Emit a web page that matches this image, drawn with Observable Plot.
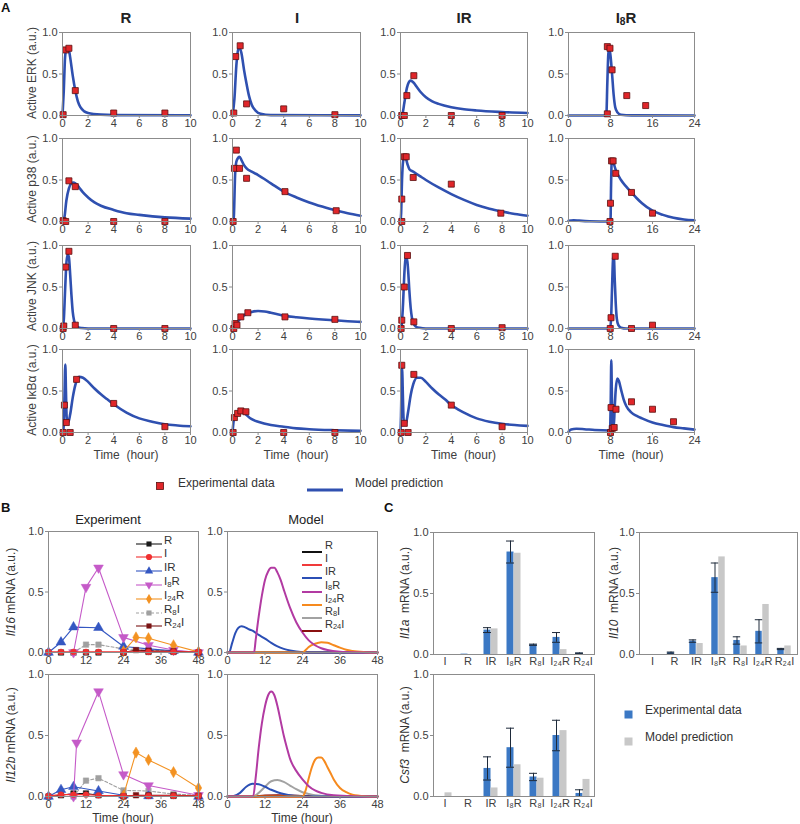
<!DOCTYPE html>
<html><head><meta charset="utf-8">
<script src="https://cdn.jsdelivr.net/npm/d3@7"></script>
<script src="https://cdn.jsdelivr.net/npm/@observablehq/plot@0.6"></script>
<style>
body{margin:0;background:#fff;}
#fig{position:relative;width:800px;height:824px;font-family:"Liberation Sans",Arial,Helvetica,sans-serif;color:#333;overflow:hidden;background:#fff;}
.abs{position:absolute;white-space:nowrap;line-height:1;}
.rot{transform:translate(-50%,-50%) rotate(-90deg);}
.ctr{transform:translate(-50%,-50%);}
.lft{transform:translate(0,-50%);}
sub{font-size:0.68em;vertical-align:-0.2em;line-height:0;}
</style></head><body><div id="fig"></div>
<script>
// ---------------- Panel A data: [time (hour), activity] ----------------
const ERK_R_exp  = [[0.05,0.01],[0.25,0.79],[0.5,0.81],[1,0.3],[4,0.03],[8,0.03]];
const ERK_R_mod  = [[0,0],[0.1,0.3],[0.2,0.7],[0.3,0.8],[0.4,0.82],[0.5,0.79],[0.6,0.7],[0.8,0.48],[1,0.3],[1.2,0.17],[1.4,0.1],[1.7,0.05],[2,0.03],[3,0.01],[4,0.005],[10,0.003]];
const ERK_I_exp  = [[0.1,0.03],[0.25,0.71],[0.6,0.84],[1.1,0.14],[4,0.08],[8,0.01]];
const ERK_I_mod  = [[0,0],[0.15,0.2],[0.3,0.6],[0.45,0.8],[0.55,0.82],[0.7,0.75],[0.9,0.55],[1.1,0.38],[1.3,0.23],[1.5,0.13],[1.8,0.06],[2.2,0.02],[3,0.005],[10,0.002]];
const ERK_IR_exp = [[0.1,0.0],[0.3,0.0],[0.5,0.24],[1.05,0.48],[4,0.0],[8,0.0]];
const ERK_IR_mod = [[0,0],[0.15,0.02],[0.3,0.15],[0.5,0.33],[0.65,0.4],[0.8,0.42],[1,0.4],[1.3,0.34],[1.6,0.28],[2,0.22],[2.5,0.17],[3,0.14],[4,0.1],[5,0.075],[6,0.06],[8,0.042],[10,0.03]];
const ERK_I8R_exp = [[7.4,0.02],[7.4,0.83],[7.9,0.81],[8.3,0.55],[11.1,0.24],[14.7,0.12]];
const ERK_I8R_mod = [[0,0],[7.2,0],[7.4,0.4],[7.6,0.75],[7.8,0.8],[8.0,0.72],[8.3,0.5],[8.6,0.25],[8.9,0.1],[9.3,0.04],[10,0.01],[12,0.002],[24,0]];

const P38_R_exp  = [[0.05,0.01],[0.25,0.0],[0.5,0.49],[1,0.42],[4,0.0],[8,0.0]];
const P38_R_mod  = [[0,0],[0.15,0.05],[0.3,0.25],[0.5,0.4],[0.7,0.46],[0.85,0.47],[1,0.46],[1.3,0.41],[1.6,0.35],[2,0.29],[2.5,0.23],[3,0.19],[4,0.14],[5,0.1],[6,0.08],[8,0.05],[10,0.035]];
const P38_I_exp  = [[0.05,0.0],[0.15,0.64],[0.3,0.86],[0.55,0.64],[1.1,0.52],[4.1,0.36],[8.1,0.13]];
const P38_I_mod  = [[0,0],[0.1,0.05],[0.2,0.55],[0.3,0.72],[0.45,0.77],[0.55,0.78],[0.7,0.74],[0.9,0.68],[1.1,0.64],[1.5,0.6],[2,0.56],[3,0.46],[4,0.36],[5,0.29],[6,0.23],[7,0.18],[8,0.135],[9,0.1],[10,0.07]];
const P38_IR_exp = [[0.1,0.0],[0.1,0.27],[0.3,0.78],[0.45,0.78],[1,0.53],[4,0.45],[7.9,0.1]];
const P38_IR_mod = [[0,0],[0.05,0.1],[0.12,0.5],[0.2,0.72],[0.3,0.78],[0.4,0.77],[0.55,0.69],[0.7,0.63],[1,0.6],[1.5,0.55],[2,0.5],[3,0.41],[4,0.33],[5,0.26],[6,0.2],[7,0.155],[8,0.12],[9,0.09],[10,0.07]];
const P38_I8R_exp = [[7.9,0.0],[8.0,0.22],[8.2,0.73],[8.5,0.73],[9,0.58],[12,0.35],[16,0.1]];
const P38_I8R_mod = [[0,0.01],[1,0.015],[2,0.01],[4,0.003],[8,0],[8.1,0.4],[8.25,0.75],[8.5,0.72],[9,0.62],[10,0.5],[11,0.42],[12,0.35],[13,0.28],[14,0.22],[16,0.13],[18,0.08],[20,0.045],[22,0.025],[24,0.015]];

const JNK_R_exp  = [[0.05,0.0],[0.1,0.03],[0.25,0.74],[0.5,0.93],[1,0.04],[4,0.0],[8,0.0]];
const JNK_R_mod  = [[0,0],[0.1,0.1],[0.2,0.45],[0.3,0.78],[0.4,0.89],[0.5,0.86],[0.6,0.65],[0.7,0.4],[0.8,0.2],[0.9,0.1],[1,0.05],[1.2,0.015],[1.5,0.005],[2,0],[10,0]];
const JNK_I_exp  = [[0.1,0.0],[0.2,0.06],[0.35,0.04],[0.65,0.14],[1.2,0.19],[4.1,0.14],[8,0.11]];
const JNK_I_mod  = [[0,0],[0.2,0.03],[0.5,0.1],[1,0.17],[1.5,0.2],[2,0.21],[2.5,0.205],[3,0.19],[4,0.155],[5,0.135],[6,0.12],[7,0.108],[8,0.098],[9,0.088],[10,0.08]];
const JNK_IR_exp = [[0.05,0.0],[0.1,0.1],[0.3,0.5],[0.55,0.88],[1.05,0.08],[4,0.0],[8,0.01]];
const JNK_IR_mod = [[0,0],[0.1,0.05],[0.2,0.3],[0.3,0.65],[0.4,0.85],[0.5,0.86],[0.6,0.7],[0.7,0.45],[0.8,0.25],[0.9,0.13],[1,0.07],[1.2,0.025],[1.5,0.008],[2,0],[10,0]];
const JNK_I8R_exp = [[7.95,0.0],[8.1,0.13],[8.9,0.87],[12,0.0],[16,0.04]];
const JNK_I8R_mod = [[0,0],[7.9,0],[8.1,0.1],[8.3,0.5],[8.5,0.85],[8.65,0.86],[8.8,0.6],[9.0,0.3],[9.2,0.12],[9.5,0.04],[10,0.01],[11,0],[24,0]];

const IKB_R_exp  = [[0.05,0.0],[0.15,0.33],[0.3,0.12],[0.6,0.0],[1.1,0.64],[4,0.35],[8,0.07]];
const IKB_R_mod  = [[0,0],[0.08,0.05],[0.15,0.4],[0.22,0.82],[0.27,0.5],[0.32,0.2],[0.38,0.12],[0.45,0.12],[0.6,0.22],[0.8,0.42],[1,0.57],[1.3,0.67],[1.6,0.66],[2,0.61],[2.5,0.53],[3,0.46],[3.5,0.4],[4,0.34],[5,0.24],[6,0.17],[7,0.13],[8,0.1],[9,0.085],[10,0.075]];
const IKB_I_exp  = [[0.05,0.0],[0.15,0.18],[0.4,0.23],[0.65,0.26],[1.05,0.25],[4,0.0],[8,0.0]];
const IKB_I_mod  = [[0,0],[0.1,0.15],[0.2,0.2],[0.35,0.23],[0.5,0.26],[0.65,0.28],[0.85,0.25],[1.1,0.21],[1.5,0.16],[2,0.13],[3,0.09],[4,0.07],[5,0.05],[6,0.04],[8,0.028],[10,0.02]];
const IKB_IR_exp = [[0.05,0.0],[0.1,0.81],[0.3,0.11],[0.6,0.0],[1.05,0.7],[4,0.33],[8,0.07]];
const IKB_IR_mod = [[0,0],[0.04,0.2],[0.09,0.65],[0.13,0.8],[0.17,0.55],[0.22,0.25],[0.28,0.1],[0.4,0.1],[0.6,0.25],[0.8,0.45],[1,0.58],[1.3,0.66],[1.6,0.66],[2,0.61],[2.5,0.53],[3,0.46],[3.5,0.4],[4,0.33],[5,0.24],[6,0.17],[7,0.13],[8,0.105],[9,0.09],[10,0.08]];
const IKB_I8R_exp = [[8,0.0],[8.1,0.3],[8.35,0.05],[8.7,0.06],[9.05,0.28],[12,0.37],[16,0.28],[20,0.13]];
const IKB_I8R_mod = [[0,0.01],[0.5,0.035],[1.5,0.045],[3,0.04],[5,0.03],[7.9,0.025],[8.05,0.4],[8.15,0.87],[8.25,0.5],[8.35,0.15],[8.6,0.05],[8.8,0.3],[9.0,0.52],[9.3,0.65],[9.6,0.62],[10,0.52],[10.5,0.4],[11,0.32],[12,0.24],[13,0.2],[14,0.17],[16,0.12],[18,0.09],[20,0.065],[22,0.05],[24,0.035]];

const stimuliA = ["R","I","IR","I<sub>8</sub>R"];
const readoutsA = ["Active ERK (a.u.)","Active p38 (a.u.)","Active JNK (a.u.)","Active I\u03BAB\u03B1 (a.u.)"];
const ticksShort = [0,2,4,6,8,10];
const ticksLong = [0,8,16,24];
const ticksY = [0,0.5,1];

// ---------------- Panel B data: [time (hour), mRNA] ----------------
const conditionsB = ["R","I","IR","I<sub>8</sub>R","I<sub>24</sub>R","R<sub>8</sub>I","R<sub>24</sub>I"];
const ticksB = [0,12,24,36,48];
const Il16_R_exp    = [[0,0],[4,0],[8,0],[12,0],[16,0],[24,0],[32,0.005],[40,0.005],[48,0]];
const Il16_I_exp    = [[0,0.005],[4,0.005],[8,0.005],[12,0.005],[16,0.005],[24,0.005],[32,0.005],[40,0.005],[48,0.005]];
const Il16_IR_exp   = [[0,0],[4,0.085],[8,0.21],[16,0.205],[24,0.05],[32,0.03],[40,0.015],[48,0]];
const Il16_I8R_exp  = [[8,0],[12,0.54],[16,0.7],[24,0.125],[32,0.06],[40,0.02],[48,0]];
const Il16_I24R_exp = [[24,0.01],[28,0.125],[32,0.118],[40,0.06],[48,0.005]];
const Il16_R8I_exp  = [[8,0],[12,0.065],[16,0.065],[24,0.03],[32,0.02],[40,0.01],[48,0]];
const Il16_R24I_exp = [[24,0],[28,0.02],[32,0.015],[40,0.01],[48,0]];

const Il12b_R_exp    = [[0,0],[4,0.01],[8,0.025],[12,0.025],[16,0.01],[24,0.005],[32,0.005],[40,0.005],[48,0]];
const Il12b_I_exp    = [[0,0.005],[4,0.015],[8,0.015],[12,0.015],[16,0.01],[24,0.005],[32,0.005],[40,0.005],[48,0.005]];
const Il12b_IR_exp   = [[0,0],[4,0.055],[8,0.08],[16,0.045],[24,0.01],[32,0.005],[48,0]];
const Il12b_I8R_exp  = [[8,0],[9,0.44],[16,0.86],[24,0.18],[32,0.09],[48,0.01]];
const Il12b_I24R_exp = [[24,0.01],[28,0.36],[32,0.3],[40,0.2],[48,0.07]];
const Il12b_R8I_exp  = [[8,0],[12,0.13],[16,0.15],[24,0.05],[32,0.045],[40,0.02],[48,0.01]];
const Il12b_R24I_exp = [[24,0],[28,0.01],[32,0.01],[40,0.01],[48,0.005]];

const Il16_R_mod    = [[0,0],[48,0]];
const Il16_I_mod    = [[0,0],[48,0]];
const Il16_IR_mod   = [[0,0],[0.5,0],[1.5,0.08],[2.5,0.16],[3.5,0.205],[4.5,0.217],[5.5,0.21],[7,0.19],[8,0.18],[10,0.145],[12,0.115],[14,0.08],[16,0.05],[18,0.03],[20,0.017],[22,0.008],[24,0.003],[26,0],[48,0]];
const Il16_I8R_mod  = [[0,0],[8.5,0],[9,0.1],[10,0.3],[11,0.47],[12,0.6],[13,0.67],[14,0.7],[15,0.7],[16,0.66],[17,0.6],[18,0.52],[20,0.37],[22,0.25],[24,0.165],[26,0.1],[28,0.06],[30,0.035],[32,0.02],[36,0.006],[40,0.002],[48,0]];
const Il16_I24R_mod = [[0,0],[24,0],[25,0.02],[26,0.045],[28,0.072],[30,0.085],[32,0.08],[34,0.06],[36,0.04],[38,0.022],[40,0.012],[44,0.003],[48,0]];
const Il16_R8I_mod  = [[0,0],[48,0]];
const Il16_R24I_mod = [[0,0.002],[24,0.002],[30,0],[48,0]];

const Il12b_R_mod    = [[0,0],[48,0]];
const Il12b_I_mod    = [[0,0],[48,0]];
const Il12b_IR_mod   = [[0,0],[2,0.005],[4,0.03],[6,0.08],[8,0.105],[10,0.1],[12,0.08],[14,0.055],[16,0.035],[18,0.02],[20,0.01],[24,0.003],[28,0],[48,0]];
const Il12b_I8R_mod  = [[0,0],[8.2,0],[9,0.15],[10,0.4],[11,0.6],[12,0.74],[13,0.83],[14,0.86],[15,0.83],[16,0.74],[17,0.62],[18,0.5],[19,0.4],[20,0.31],[22,0.21],[24,0.14],[26,0.085],[28,0.05],[30,0.03],[34,0.01],[40,0.002],[48,0]];
const Il12b_I24R_mod = [[0,0],[24,0],[25,0.05],[26,0.15],[27,0.24],[28,0.3],[29,0.32],[30,0.32],[31,0.29],[32,0.24],[33,0.19],[34,0.14],[36,0.07],[38,0.035],[40,0.015],[44,0.003],[48,0]];
const Il12b_R8I_mod  = [[0,0],[8,0],[10,0.03],[12,0.08],[14,0.125],[16,0.135],[18,0.12],[20,0.09],[22,0.06],[24,0.035],[26,0.02],[28,0.01],[32,0.003],[48,0]];
const Il12b_R24I_mod = [[0,0],[8,0],[12,0.008],[16,0.01],[20,0.008],[24,0.005],[30,0.002],[48,0]];

// ---------------- Panel C data ----------------
const categoriesC = ["I","R","IR","I\u2088R","R\u2088I","I\u2082\u2084R","R\u2082\u2084I"];
const Il1a_exp   = [0,0.003,0.2,0.84,0.08,0.14,0.01];
const Il1a_err   = [0,0,0.02,0.09,0.005,0.04,0.003];
const Il1a_model = [0,0,0.21,0.83,0,0.04,0];
const Il10_exp   = [0,0.015,0.11,0.63,0.115,0.19,0.045];
const Il10_err   = [0,0.005,0.01,0.12,0.03,0.095,0.005];
const Il10_model = [0,0,0.09,0.8,0.07,0.41,0.07];
const Csf3_exp   = [0,0,0.23,0.4,0.16,0.5,0.025];
const Csf3_err   = [0,0,0.095,0.16,0.03,0.125,0.03];
const Csf3_model = [0.03,0,0.07,0.26,0.15,0.54,0.14];

// ---------------- styling ----------------
const FONT = '"Liberation Sans",Arial,Helvetica,sans-serif';
const BLUE_LINE = "#2f50b0", RED_PT = "#e0262a", RED_PT_STROKE = "#5a1010";
const BAR_BLUE = "#3b78c4", BAR_GRAY = "#c8c8c8";
const colB = {R:"#1a1a1a", I:"#f03030", IR:"#3457c2", I8R:"#c55ac8", I24R:"#f39222", R8I:"#a0a0a0", R24I:"#7a1414"};
const colBm = {R:"#111111", I:"#f03a3a", IR:"#2b4fb5", I8R:"#b23aa2", I24R:"#f68a1e", R8I:"#a2a2a2", R24I:"#8a1010"};

const fig = document.getElementById("fig");
function place(node, left, top){ node.style.position="absolute"; node.style.left=left+"px"; node.style.top=top+"px"; fig.appendChild(node); }
function label(html, x, y, cls, extra){ const d=document.createElement("div"); d.className="abs "+(cls||""); d.innerHTML=html; d.style.left=x+"px"; d.style.top=y+"px"; Object.assign(d.style, extra||{}); fig.appendChild(d); return d; }

const M = {l:32, r:10, t:6, b:22};
const X = d => d[0], Y = d => d[1];
function panel({x0, y0, w, h, x, xTicks, xFormat, marks}){
  const p = Plot.plot({
    width: w+M.l+M.r, height: h+M.t+M.b,
    marginLeft:M.l, marginRight:M.r, marginTop:M.t, marginBottom:M.b,
    style:{fontSize:"11px", fontFamily:FONT, color:"#404040", background:"none", overflow:"visible"},
    x, y:{domain:[0,1]},
    marks:[
      ...marks,
      Plot.frame({stroke:"#8c8c8c", strokeWidth:1}),
      Plot.axisX({ticks:xTicks, tickSize: xTicks ? 3 : 0, tickPadding: xTicks ? 1 : 3, label:null, tickFormat:xFormat, stroke:"#8c8c8c"}),
      Plot.axisY({ticks:ticksY, tickSize:3, tickPadding:2, label:null, tickFormat:d3.format(".1f"), stroke:"#8c8c8c"})
    ]
  });
  place(p, x0-M.l, y0-M.t);
}

// ---------------- Panel A ----------------
const colsA = [
  {x0:62,  w:128, dom:[0,10], ticks:ticksShort, title:126},
  {x0:232, w:128, dom:[0,10], ticks:ticksShort, title:297},
  {x0:400, w:127, dom:[0,10], ticks:ticksShort, title:464},
  {x0:568, w:126, dom:[0,24], ticks:ticksLong,  title:626}
];
const rowTopsA = [32,138,245,349];
const modA = [[ERK_R_mod,ERK_I_mod,ERK_IR_mod,ERK_I8R_mod],[P38_R_mod,P38_I_mod,P38_IR_mod,P38_I8R_mod],[JNK_R_mod,JNK_I_mod,JNK_IR_mod,JNK_I8R_mod],[IKB_R_mod,IKB_I_mod,IKB_IR_mod,IKB_I8R_mod]];
const expA = [[ERK_R_exp,ERK_I_exp,ERK_IR_exp,ERK_I8R_exp],[P38_R_exp,P38_I_exp,P38_IR_exp,P38_I8R_exp],[JNK_R_exp,JNK_I_exp,JNK_IR_exp,JNK_I8R_exp],[IKB_R_exp,IKB_I_exp,IKB_IR_exp,IKB_I8R_exp]];
rowTopsA.forEach((top, r) => {
  colsA.forEach((c, k) => {
    panel({x0:c.x0, y0:top, w:c.w, h:83, x:{domain:c.dom}, xTicks:c.ticks,
      marks:[
        Plot.line(modA[r][k], {x:X, y:Y, stroke:BLUE_LINE, strokeWidth:2.6, curve:"monotone-x"}),
        Plot.dot(expA[r][k], {x:X, y:Y, symbol:"square", r:3.4, fill:RED_PT, stroke:RED_PT_STROKE, strokeWidth:0.8})
      ]});
  });
  label(readoutsA[r], 32, top+41, "rot", {fontSize:"12px", color:"#404040"});
});
label("A", 1, 1, "", {fontSize:"13px", fontWeight:"bold", color:"#111"});
colsA.forEach((c,k) => {
  label(stimuliA[k], c.title, 17, "ctr", {fontSize:"15px", fontWeight:"bold", color:"#222"});
  label("Time&nbsp; (hour)", c.x0 + c.w/2, 455, "ctr", {fontSize:"12px", color:"#404040"});
});
// legend A
(function(){
  const s = document.createElement("div");
  s.className = "abs";
  s.innerHTML = `<svg width="10" height="10"><rect x="1.5" y="1.5" width="7" height="7" fill="${RED_PT}" stroke="${RED_PT_STROKE}" stroke-width="0.8"/></svg>`;
  place(s, 155, 478);
  label("Experimental data", 178, 483, "lft", {fontSize:"12px", color:"#333"});
  const l = document.createElement("div");
  l.className = "abs";
  l.innerHTML = `<svg width="38" height="6"><line x1="1" x2="37" y1="3" y2="3" stroke="${BLUE_LINE}" stroke-width="3.2"/></svg>`;
  place(l, 306, 480);
  label("Model prediction", 355, 483, "lft", {fontSize:"12px", color:"#333"});
})();

// ---------------- Panel B ----------------
const keysB = ["R","I","IR","I8R","I24R","R8I","R24I"];
const symB = {R:"square", I:"circle", IR:"triangle", I8R:"triangle", I24R:"diamond", R8I:"square", R24I:"square"};
const rotB = {I8R:180};
const expSetsB = [
  {R:Il16_R_exp, I:Il16_I_exp, IR:Il16_IR_exp, I8R:Il16_I8R_exp, I24R:Il16_I24R_exp, R8I:Il16_R8I_exp, R24I:Il16_R24I_exp},
  {R:Il12b_R_exp, I:Il12b_I_exp, IR:Il12b_IR_exp, I8R:Il12b_I8R_exp, I24R:Il12b_I24R_exp, R8I:Il12b_R8I_exp, R24I:Il12b_R24I_exp}
];
const modSetsB = [
  {R:Il16_R_mod, I:Il16_I_mod, IR:Il16_IR_mod, I8R:Il16_I8R_mod, I24R:Il16_I24R_mod, R8I:Il16_R8I_mod, R24I:Il16_R24I_mod},
  {R:Il12b_R_mod, I:Il12b_I_mod, IR:Il12b_IR_mod, I8R:Il12b_I8R_mod, I24R:Il12b_I24R_mod, R8I:Il12b_R8I_mod, R24I:Il12b_R24I_mod}
];
const drawOrderExp = ["R","R8I","IR","I8R","I24R","R24I","I"];
const drawOrderMod = ["R","I","R24I","R8I","IR","I24R","I8R"];
const symSize = {square:3.1, circle:2.9, triangle:3.6, diamond:3.4};
const rowTopsB = [531, 674], rowHB = [121, 122];
rowTopsB.forEach((top, r) => {
  const marksE = [];
  drawOrderExp.forEach(k => {
    const d = expSetsB[r][k];
    marksE.push(Plot.line(d, {x:X, y:Y, stroke:colB[k], strokeWidth:1.1, strokeDasharray: k==="R8I" ? "3,2" : null}));
    marksE.push(Plot.dot(d, {x:X, y:Y, symbol:symB[k], r:symSize[symB[k]], fill:colB[k], stroke:colB[k], strokeWidth:0.5, rotate: rotB[k] || 0}));
  });
  panel({x0:48, y0:top, w:150, h:rowHB[r], x:{domain:[0,48]}, xTicks:ticksB, marks:marksE});
  const marksM = drawOrderMod.map(k => Plot.line(modSetsB[r][k], {x:X, y:Y, stroke:colBm[k], strokeWidth:2, curve:"monotone-x"}));
  panel({x0:227, y0:top, w:150, h:rowHB[r], x:{domain:[0,48]}, xTicks:ticksB, marks:marksM});
});
label("B", 1, 507, "lft", {fontSize:"13px", fontWeight:"bold", color:"#111"});
label("Experiment", 108, 519, "ctr", {fontSize:"13px", color:"#222"});
label("Model", 306, 519, "ctr", {fontSize:"13px", color:"#222"});
label("<i>Il16</i> mRNA (a.u.)", 11, 592, "rot", {fontSize:"12px", color:"#333"});
label("<i>Il12b</i> mRNA (a.u.)", 11, 735, "rot", {fontSize:"12px", color:"#333"});
label("Time (hour)", 123, 818, "ctr", {fontSize:"12px", color:"#333"});
label("Time (hour)", 302, 818, "ctr", {fontSize:"12px", color:"#333"});
// legends B
keysB.forEach((k, i) => {
  const y = 540.5 + 13.8*i;
  const path = d3.symbol().type({square:d3.symbolSquare, circle:d3.symbolCircle, triangle:d3.symbolTriangle, diamond:d3.symbolDiamond}[symB[k]]).size(symB[k]==="square"?26:30)();
  const e = document.createElement("div");
  e.className = "abs";
  e.innerHTML = `<svg width="28" height="10"><line x1="1" x2="27" y1="5" y2="5" stroke="${colB[k]}" stroke-width="1.1" ${k==="R8I"?'stroke-dasharray="3,2"':''}/><path d="${path}" transform="translate(14,5) rotate(${rotB[k]||0})" fill="${colB[k]}"/></svg>`;
  place(e, 135, y-5);
  label(conditionsB[i], 164, y, "lft", {fontSize:"11.5px", color:"#333"});
  const ym = 545 + 13.2*i;
  const m = document.createElement("div");
  m.className = "abs";
  m.innerHTML = `<svg width="22" height="6"><line x1="1" x2="21" y1="3" y2="3" stroke="${colBm[k]}" stroke-width="2"/></svg>`;
  place(m, 301, ym-3);
  label(conditionsB[i], 325, ym, "lft", {fontSize:"11px", color:"#333"});
});

// ---------------- Panel C ----------------
function barPanel(x0, y0, w, h, expV, errV, modV){
  const rows = categoriesC.map((c,i) => ({cat:c, exp:expV[i], err:errV[i], model:modV[i]}));
  const bw = w/7, half = 7;
  const inL = bw/2 - half, inR = bw/2;
  const withErr = rows.filter(d => d.err > 0);
  panel({x0, y0, w, h, x:{type:"band", domain:categoriesC, padding:0}, xTicks:null,
    marks:[
      Plot.barY(rows, {x:"cat", y:"exp", fill:BAR_BLUE, insetLeft:inL, insetRight:inR}),
      Plot.barY(rows, {x:"cat", y:"model", fill:BAR_GRAY, insetLeft:inR, insetRight:inL}),
      Plot.ruleX(withErr, {x:"cat", y1:d=>d.exp-d.err, y2:d=>d.exp+d.err, dx:-half/2, stroke:"#1e2a3a", strokeWidth:1}),
      Plot.tickY(withErr, {x:"cat", y:d=>d.exp+d.err, insetLeft:inL-0.5, insetRight:inR-0.5, stroke:"#1e2a3a", strokeWidth:1}),
      Plot.tickY(withErr, {x:"cat", y:d=>Math.max(0,d.exp-d.err), insetLeft:inL-0.5, insetRight:inR-0.5, stroke:"#1e2a3a", strokeWidth:1})
    ]});
}
barPanel(433, 532, 161, 122, Il1a_exp, Il1a_err, Il1a_model);
barPanel(639, 532, 158, 122, Il10_exp, Il10_err, Il10_model);
barPanel(433, 674, 161, 122, Csf3_exp, Csf3_err, Csf3_model);
label("C", 384, 507, "lft", {fontSize:"13px", fontWeight:"bold", color:"#111"});
label("<i>Il1a</i>&nbsp; mRNA (a.u.)", 405, 593, "rot", {fontSize:"12px", color:"#333"});
label("<i>Il10</i>&nbsp; mRNA (a.u.)", 614, 593, "rot", {fontSize:"12px", color:"#333"});
label("<i>Csf3</i>&nbsp; mRNA (a.u.)", 405, 735, "rot", {fontSize:"12px", color:"#333"});
(function(){
  const b = document.createElement("div"); b.className="abs";
  b.innerHTML = `<svg width="9" height="9"><rect x="0.5" y="0.5" width="8" height="8" fill="${BAR_BLUE}"/></svg>`;
  place(b, 624, 706);
  label("Experimental data", 645, 710, "lft", {fontSize:"12px", color:"#333"});
  const g = document.createElement("div"); g.className="abs";
  g.innerHTML = `<svg width="9" height="9"><rect x="0.5" y="0.5" width="8" height="8" fill="${BAR_GRAY}"/></svg>`;
  place(g, 624, 733);
  label("Model prediction", 645, 737, "lft", {fontSize:"12px", color:"#333"});
})();
</script></body></html>
